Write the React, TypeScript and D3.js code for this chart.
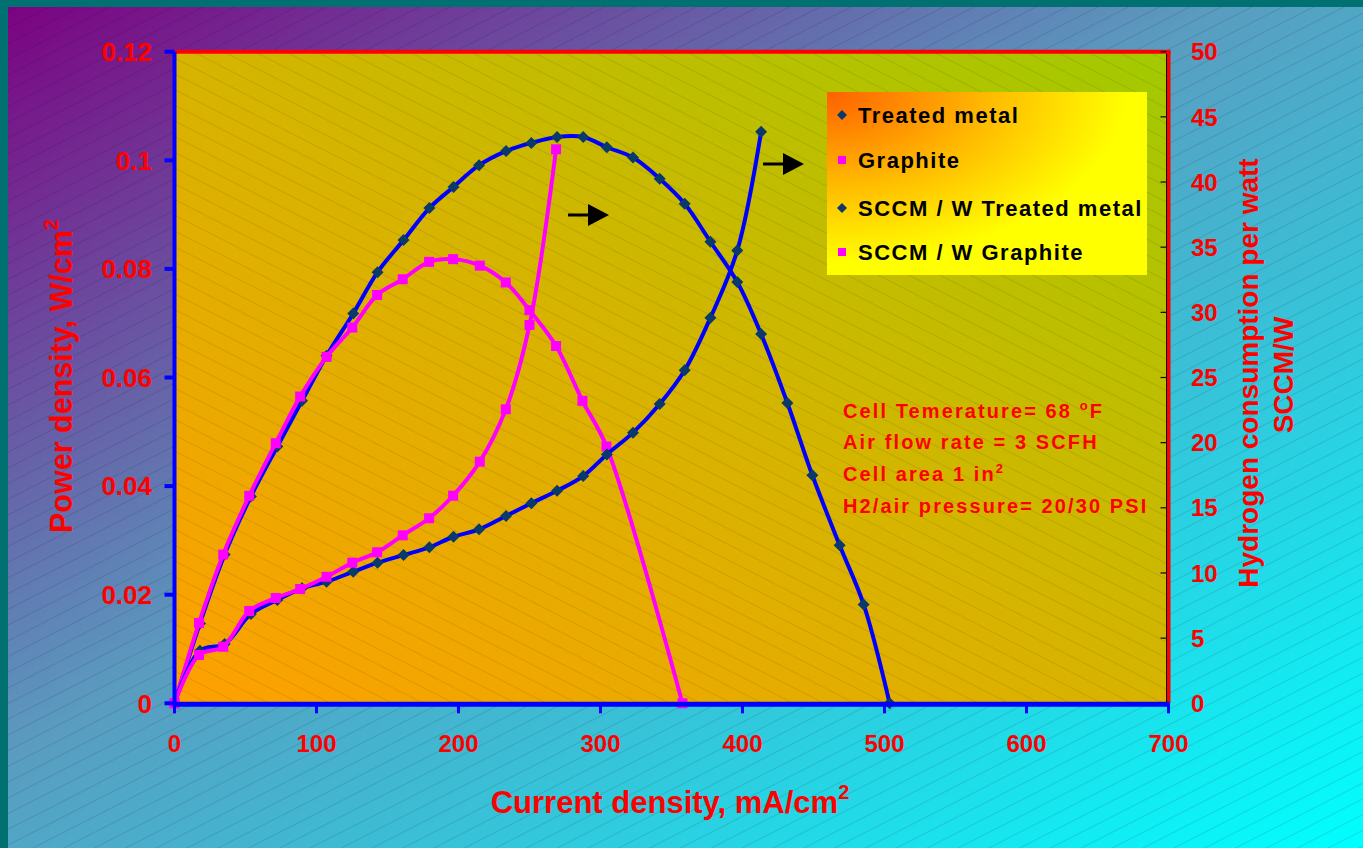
import React from 'react';
import * as d3 from 'd3';

// ---------- data ----------
const xTicks = [0, 100, 200, 300, 400, 500, 600, 700];
const powerTicks = [0, 0.02, 0.04, 0.06, 0.08, 0.1, 0.12];
const sccmTicks = [0, 5, 10, 15, 20, 25, 30, 35, 40, 45, 50];

const treatedCurrent = [0, 17.9, 35.3, 53.8, 72.4, 89.8, 107.1, 125.9, 143.0, 161.3, 179.5, 196.5, 214.5, 233.5, 251.3, 269.4, 287.8, 304.5, 322.9, 341.7, 359.3, 377.4, 396.3, 413.1, 431.6, 449.2, 468.4, 485.3, 503.6];
const treatedPower = [0, 0.0147, 0.0274, 0.0381, 0.0473, 0.0557, 0.064, 0.0718, 0.0794, 0.0853, 0.0912, 0.0951, 0.0991, 0.1017, 0.1032, 0.1043, 0.1043, 0.1024, 0.1005, 0.0966, 0.092, 0.085, 0.0776, 0.068, 0.0553, 0.042, 0.0291, 0.0182, 0];
const treatedSccm: (number | null)[] = [0, 4.04, 4.55, 6.85, 7.93, 8.82, 9.33, 10.1, 10.79, 11.38, 11.97, 12.78, 13.35, 14.37, 15.35, 16.31, 17.44, 19.1, 20.77, 22.97, 25.56, 29.58, 34.74, 43.85, null, null, null, null, null];

const graphiteCurrent = [0, 17.3, 34.3, 52.6, 71.3, 88.5, 107.1, 125.2, 142.7, 160.7, 179.3, 196.2, 215.0, 233.3, 250.0, 268.7, 287.3, 304.2, 357.7];
const graphitePower = [0, 0.0148, 0.0274, 0.0382, 0.0479, 0.0565, 0.0638, 0.0692, 0.0752, 0.0781, 0.0813, 0.0818, 0.0806, 0.0775, 0.0724, 0.0658, 0.0557, 0.0473, 0];
const graphiteSccm: (number | null)[] = [0, 3.71, 4.34, 7.08, 8.08, 8.77, 9.71, 10.79, 11.59, 12.89, 14.2, 15.93, 18.54, 22.56, 29.03, 42.51, null, null, null];

const legendLabels = ['Treated metal', 'Graphite', 'SCCM / W Treated metal', 'SCCM / W Graphite'];
const legendKinds = ['diamond', 'square', 'diamond', 'square'];

// ---------- layout ----------
const W = 1363;
const H = 848;
const PL = 174.5;
const PR = 1168.5;
const PT = 51.7;
const PB = 703.3;

const x = d3.scaleLinear().domain([0, 700]).range([PL, PR]);
const yP = d3.scaleLinear().domain([0, 0.12]).range([PB, PT]);
const yS = d3.scaleLinear().domain([0, 50]).range([PB, PT]);

const BLUE = '#0000ff';
const MAG = '#ff00ff';
const NAVY = '#0a3a6a';
const RED = '#ff0000';
const FONT = "'Liberation Sans', Arial, Helvetica, sans-serif";

type Pt = [number, number | null];

const lineGen = (ys: d3.ScaleLinear<number, number>) =>
  d3
    .line<Pt>()
    .defined((d) => d[1] !== null)
    .x((d) => x(d[0]))
    .y((d) => ys(d[1] as number))
    .curve(d3.curveCatmullRom.alpha(0.5));

const zip = (a: number[], b: (number | null)[]): Pt[] => a.map((v, i) => [v, b[i]]);

const Diamond = ({ cx, cy, r, fill }: { cx: number; cy: number; r: number; fill: string }) => (
  <path d={`M${cx},${cy - r}L${cx + r},${cy}L${cx},${cy + r}L${cx - r},${cy}Z`} fill={fill} />
);
const Square = ({ cx, cy, r, fill }: { cx: number; cy: number; r: number; fill: string }) => (
  <rect x={cx - r} y={cy - r} width={2 * r} height={2 * r} fill={fill} />
);

function Series({ pts, ys, color, kind }: { pts: Pt[]; ys: d3.ScaleLinear<number, number>; color: string; kind: string }) {
  const d = lineGen(ys)(pts) || '';
  const valid = pts.filter((p) => p[1] !== null);
  return (
    <g>
      <path d={d} fill="none" stroke={color} strokeWidth={4} strokeLinejoin="round" />
      {valid.map((p, i) =>
        kind === 'diamond' ? (
          <Diamond key={i} cx={x(p[0])} cy={ys(p[1] as number)} r={6} fill={NAVY} />
        ) : (
          <Square key={i} cx={x(p[0])} cy={ys(p[1] as number)} r={5} fill={MAG} />
        )
      )}
    </g>
  );
}

function Arrow({ x0, y0 }: { x0: number; y0: number }) {
  return (
    <g>
      <line x1={x0} y1={y0} x2={x0 + 22} y2={y0} stroke="#000" strokeWidth={3} />
      <path d={`M${x0 + 20},${y0 - 11}L${x0 + 41},${y0}L${x0 + 20},${y0 + 11}Z`} fill="#000" />
    </g>
  );
}

export default function App() {
  const fmtP = (v: number) => String(+v.toFixed(2));
  return (
    <svg width={W} height={H} style={{ position: 'absolute', left: 0, top: 0 }} fontFamily={FONT}>
      <defs>
        <linearGradient id="bg" x1="0" y1="0" x2="1" y2="1">
          <stop offset="0" stopColor="#7c0080" />
          <stop offset="0.45" stopColor="#5a9cc0" />
          <stop offset="1" stopColor="#00ffff" />
        </linearGradient>
        <linearGradient id="plotbg" x1="0" y1="1" x2="1" y2="0">
          <stop offset="0" stopColor="#ffa000" />
          <stop offset="0.5" stopColor="#d6b400" />
          <stop offset="1" stopColor="#a2ca00" />
        </linearGradient>
        <radialGradient id="legbg" cx="0" cy="0" r="1.1" fx="0" fy="0">
          <stop offset="0" stopColor="#ff6000" />
          <stop offset="0.45" stopColor="#ffb800" />
          <stop offset="0.85" stopColor="#ffff00" />
          <stop offset="1" stopColor="#ffff00" />
        </radialGradient>
        <pattern id="hatchOut" width="14" height="14" patternUnits="userSpaceOnUse" patternTransform="rotate(-27)">
          <line x1="0" y1="0.5" x2="14" y2="0.5" stroke="#000" strokeOpacity="0.11" strokeWidth="1" />
        </pattern>
        <pattern id="hatchIn" width="14" height="14" patternUnits="userSpaceOnUse" patternTransform="rotate(27)">
          <line x1="0" y1="0.5" x2="14" y2="0.5" stroke="#000" strokeOpacity="0.09" strokeWidth="1" />
        </pattern>
      </defs>

      {/* background */}
      <rect x={0} y={0} width={W} height={H} fill="url(#bg)" />
      <rect x={0} y={0} width={W} height={H} fill="url(#hatchOut)" />
      <rect x={0} y={0} width={W} height={7} fill="#007070" />
      <rect x={0} y={0} width={8} height={H} fill="#007070" />

      {/* plot area */}
      <rect x={PL} y={PT} width={PR - PL} height={PB - PT} fill="url(#plotbg)" />
      <rect x={PL} y={PT} width={PR - PL} height={PB - PT} fill="url(#hatchIn)" />

      {/* frame: top and right red */}
      <line x1={PL} y1={PT} x2={PR + 2} y2={PT} stroke={RED} strokeWidth={4} />
      <line x1={PR} y1={PT} x2={PR} y2={PB} stroke={RED} strokeWidth={4} />
      <line x1={PR - 2} y1={PT + 2} x2={PR - 2} y2={PB} stroke="#000" strokeWidth={1} />

      {/* right axis ticks (inside, black) */}
      {sccmTicks.map((t) => (
        <line key={t} x1={PR - 8} x2={PR - 2} y1={yS(t)} y2={yS(t)} stroke="#000" strokeWidth={1.2} />
      ))}

      {/* series */}
      <Series pts={zip(treatedCurrent, treatedPower)} ys={yP} color={BLUE} kind="diamond" />
      <Series pts={zip(graphiteCurrent, graphitePower)} ys={yP} color={MAG} kind="square" />
      <Series pts={zip(treatedCurrent, treatedSccm)} ys={yS} color={BLUE} kind="diamond" />
      <Series pts={zip(graphiteCurrent, graphiteSccm)} ys={yS} color={MAG} kind="square" />

      {/* left axis */}
      <line x1={PL} y1={PT} x2={PL} y2={PB + 2} stroke={BLUE} strokeWidth={4} />
      {powerTicks.map((t) => (
        <g key={t}>
          <line x1={PL - 10} x2={PL} y1={yP(t)} y2={yP(t)} stroke={BLUE} strokeWidth={4} />
          <text x={152} y={yP(t)} dy="0.36em" textAnchor="end" fill={RED} fontWeight="bold" fontSize={26}>
            {fmtP(t)}
          </text>
        </g>
      ))}

      {/* bottom axis */}
      <line x1={PL - 2} y1={PB + 1} x2={PR + 1} y2={PB + 1} stroke={BLUE} strokeWidth={5} />
      {xTicks.map((t) => (
        <g key={t}>
          <line x1={x(t)} x2={x(t)} y1={PB} y2={PB + 10} stroke={BLUE} strokeWidth={3} />
          <text x={x(t)} y={752} textAnchor="middle" fill={RED} fontWeight="bold" fontSize={24}>
            {t}
          </text>
        </g>
      ))}

      {/* right axis labels */}
      {sccmTicks.map((t) => (
        <text key={t} x={1191} y={yS(t)} dy="0.36em" textAnchor="start" fill={RED} fontWeight="bold" fontSize={24}>
          {t}
        </text>
      ))}

      {/* axis titles */}
      <text x={670} y={813} textAnchor="middle" fill={RED} fontWeight="bold" fontSize={31}>
        Current density, mA/cm
        <tspan fontSize={20} dy={-14}>2</tspan>
      </text>
      <text transform="translate(72,376) rotate(-90)" textAnchor="middle" fill={RED} fontWeight="bold" fontSize={30.5}>
        Power density, W/cm
        <tspan fontSize={20} dy={-14}>2</tspan>
      </text>
      <text transform="translate(1258,373) rotate(-90)" textAnchor="middle" fill={RED} fontWeight="bold" fontSize={28}>
        Hydrogen consumption per watt
      </text>
      <text transform="translate(1293,375) rotate(-90)" textAnchor="middle" fill={RED} fontWeight="bold" fontSize={28}>
        SCCM/W
      </text>

      {/* arrows */}
      <Arrow x0={568} y0={215} />
      <Arrow x0={763} y0={164} />

      {/* legend */}
      <rect x={827} y={92} width={320} height={183} fill="url(#legbg)" />
      {legendLabels.map((l, i) => {
        const cy = [115, 160, 208, 252][i];
        return (
          <g key={l}>
            {legendKinds[i] === 'diamond' ? (
              <Diamond cx={842} cy={cy} r={5} fill={NAVY} />
            ) : (
              <Square cx={842} cy={cy} r={4} fill={MAG} />
            )}
            <text x={858} y={cy} dy="0.36em" fill="#000" fontWeight="bold" fontSize={22} letterSpacing={1.5}>
              {l}
            </text>
          </g>
        );
      })}

      {/* notes */}
      <g fill={RED} fontWeight="bold" fontSize={20} letterSpacing={2.1}>
        <text x={843} y={418}>
          Cell Temerature= 68 <tspan fontSize={13} dy={-8}>o</tspan>
          <tspan dy={8}>F</tspan>
        </text>
        <text x={843} y={449}>Air flow rate = 3 SCFH</text>
        <text x={843} y={481}>
          Cell area 1 in<tspan fontSize={13} dy={-8}>2</tspan>
        </text>
        <text x={843} y={513}>H2/air pressure= 20/30 PSI</text>
      </g>
    </svg>
  );
}
